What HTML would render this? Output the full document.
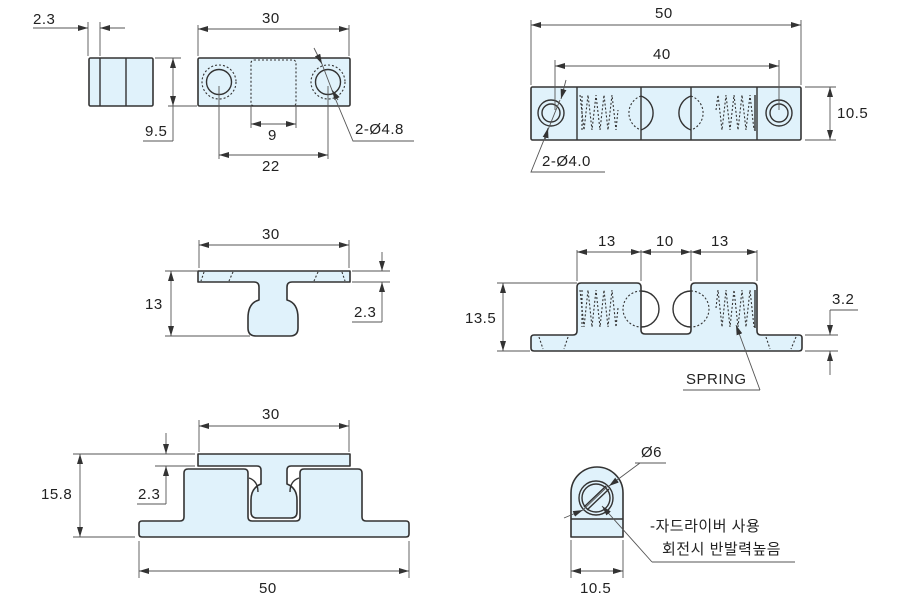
<!DOCTYPE html>
<html><head><meta charset="utf-8"><style>
html,body{margin:0;padding:0;background:#fff;}
svg{display:block}
text{font-family:"Liberation Sans","Noto Sans CJK KR",sans-serif;font-size:15px;fill:#222;letter-spacing:0.5px}
.p{fill:#e0f2fb;stroke:#333;stroke-width:1.6;stroke-linejoin:round}
.l{fill:none;stroke:#333;stroke-width:1.4}
.d{fill:none;stroke:#555;stroke-width:0.9}
.ds{fill:none;stroke:#333;stroke-width:1.1;stroke-dasharray:2 2}
</style></head><body>
<svg width="900" height="605" viewBox="0 0 900 605" xmlns="http://www.w3.org/2000/svg">
<defs>
<marker id="a" viewBox="0 0 10 6" refX="10" refY="3" markerWidth="10" markerHeight="6" orient="auto-start-reverse" markerUnits="userSpaceOnUse"><path d="M0,0 L10,3 L0,6 z" fill="#333"/></marker>
</defs>

<!-- ===== top-left small block ===== -->
<rect class="p" x="89" y="58" width="64" height="48" rx="1.5"/>
<line class="l" x1="100" y1="58" x2="100" y2="106"/>
<line class="l" x1="126" y1="58" x2="126" y2="106"/>
<line class="d" x1="88" y1="22" x2="88" y2="56"/>
<line class="d" x1="100" y1="22" x2="100" y2="56"/>
<line class="d" x1="33" y1="28" x2="88" y2="28" marker-end="url(#a)"/>
<line class="d" x1="125" y1="28" x2="100" y2="28" marker-end="url(#a)"/>
<text x="33" y="24">2.3</text>
<line class="d" x1="155" y1="58" x2="181" y2="58"/>
<line class="d" x1="168" y1="106" x2="197" y2="106"/>
<line class="d" x1="173" y1="58" x2="173" y2="106" marker-start="url(#a)" marker-end="url(#a)"/>
<line class="d" x1="173" y1="106" x2="173" y2="141"/>
<line class="d" x1="143" y1="141" x2="173" y2="141"/>
<text x="145" y="136">9.5</text>

<!-- ===== top block 2 ===== -->
<rect class="p" x="198" y="58" width="152" height="48" rx="1.5"/>
<rect class="ds" x="251" y="60" width="45" height="46" rx="3"/>
<circle class="ds" cx="219" cy="82" r="17"/>
<circle class="l" cx="219" cy="82" r="12.5"/>
<circle class="ds" cx="328" cy="82" r="17"/>
<circle class="l" cx="328" cy="82" r="12.5"/>
<line class="d" x1="198" y1="25" x2="198" y2="56"/>
<line class="d" x1="349" y1="25" x2="349" y2="56"/>
<line class="d" x1="198" y1="29" x2="349" y2="29" marker-start="url(#a)" marker-end="url(#a)"/>
<text x="262" y="23">30</text>
<line class="d" x1="251" y1="106" x2="251" y2="128"/>
<line class="d" x1="296" y1="106" x2="296" y2="128"/>
<line class="d" x1="251" y1="124" x2="296" y2="124" marker-start="url(#a)" marker-end="url(#a)"/>
<text x="268" y="140">9</text>
<line class="d" x1="219" y1="86" x2="219" y2="159"/>
<line class="d" x1="328" y1="86" x2="328" y2="159"/>
<line class="d" x1="219" y1="155" x2="328" y2="155" marker-start="url(#a)" marker-end="url(#a)"/>
<text x="262" y="171">22</text>
<line class="d" x1="314" y1="48" x2="322" y2="64" marker-end="url(#a)"/>
<line class="d" x1="322" y1="64" x2="335" y2="98"/>
<line class="d" x1="338" y1="100" x2="332" y2="90" marker-end="url(#a)"/>
<polyline class="d" points="335,98 353,141 414,141"/>
<text x="355" y="134">2-Ø4.8</text>

<!-- ===== top right block ===== -->
<rect class="p" x="531" y="87" width="270" height="53" rx="1.5"/>
<line class="l" x1="577" y1="87" x2="577" y2="140"/>
<line class="l" x1="641" y1="87" x2="641" y2="140"/>
<line class="l" x1="691" y1="87" x2="691" y2="140"/>
<line class="l" x1="757" y1="87" x2="757" y2="140"/>
<circle class="l" cx="551" cy="113" r="13"/>
<circle class="l" cx="551" cy="113" r="9"/>
<circle class="l" cx="779" cy="113" r="13"/>
<circle class="l" cx="779" cy="113" r="9"/>
<path class="ds" d="M641,96 A18,18 0 0 0 641,130"/>
<path class="l" d="M641,96 A18,18 0 0 1 641,130"/>
<path class="ds" d="M691,96 A18,18 0 0 1 691,130"/>
<path class="l" d="M691,96 A18,18 0 0 0 691,130"/>
<polyline class="ds" points="580,95 584,130 588,95 592,130 596,95 600,130 604,95 608,130 612,95 616,130 618,110"/>
<polyline class="ds" points="582,96 582,130"/>
<polyline class="ds" points="716,110 718,95 722,130 726,95 730,130 734,95 738,130 742,95 746,130 750,95 754,130"/>
<line class="l" x1="755" y1="95" x2="755" y2="131"/>
<line class="d" x1="531" y1="20" x2="531" y2="85"/>
<line class="d" x1="801" y1="20" x2="801" y2="85"/>
<line class="d" x1="531" y1="25" x2="801" y2="25" marker-start="url(#a)" marker-end="url(#a)"/>
<text x="655" y="18">50</text>
<line class="d" x1="555" y1="60" x2="555" y2="110"/>
<line class="d" x1="779" y1="60" x2="779" y2="110"/>
<line class="d" x1="555" y1="66" x2="779" y2="66" marker-start="url(#a)" marker-end="url(#a)"/>
<text x="653" y="59">40</text>
<line class="d" x1="805" y1="87" x2="836" y2="87"/>
<line class="d" x1="805" y1="140" x2="836" y2="140"/>
<line class="d" x1="830" y1="87" x2="830" y2="140" marker-start="url(#a)" marker-end="url(#a)"/>
<text x="837" y="118">10.5</text>
<line class="d" x1="566" y1="80" x2="561" y2="99" marker-end="url(#a)"/>
<polyline class="d" points="560,100 531,172 605,172"/>
<line class="d" x1="545" y1="140" x2="548" y2="128" marker-end="url(#a)"/>
<text x="542" y="166">2-Ø4.0</text>

<!-- ===== middle left T ===== -->
<path class="p" d="M198,271 H350 V282 H292 Q287,282 287,287 V300 Q298,303 298,318 V328 Q298,336 290,336 H256 Q248,336 248,328 V318 Q248,303 259,300 V287 Q259,282 254,282 H198 Z"/>
<line class="ds" x1="233" y1="272" x2="229" y2="281"/>
<line class="ds" x1="204" y1="272" x2="201" y2="281"/>
<line class="ds" x1="318" y1="272" x2="314" y2="281"/>
<line class="ds" x1="342" y1="272" x2="345" y2="281"/>
<line class="d" x1="199" y1="240" x2="199" y2="268"/>
<line class="d" x1="349" y1="240" x2="349" y2="268"/>
<line class="d" x1="199" y1="245" x2="349" y2="245" marker-start="url(#a)" marker-end="url(#a)"/>
<text x="262" y="239">30</text>
<line class="d" x1="165" y1="271" x2="198" y2="271"/>
<line class="d" x1="165" y1="336" x2="250" y2="336"/>
<line class="d" x1="171" y1="271" x2="171" y2="336" marker-start="url(#a)" marker-end="url(#a)"/>
<text x="145" y="309">13</text>
<line class="d" x1="352" y1="271" x2="390" y2="271"/>
<line class="d" x1="352" y1="282" x2="390" y2="282"/>
<line class="d" x1="382" y1="252" x2="382" y2="271" marker-end="url(#a)"/>
<line class="d" x1="382" y1="322" x2="382" y2="282" marker-end="url(#a)"/>
<line class="d" x1="352" y1="322" x2="382" y2="322"/>
<text x="354" y="317">2.3</text>

<!-- ===== middle right side view ===== -->
<path class="p" d="M534,335 H573 Q577,335 577,331 V287 Q577,283 581,283 H637 Q641,283 641,287 V330 Q641,334 645,334 H687 Q691,334 691,330 V287 Q691,283 695,283 H753 Q757,283 757,287 V331 Q757,335 761,335 H799 Q802,335 802,338 V348 Q802,351 799,351 H534 Q531,351 531,348 V338 Q531,335 534,335 Z"/>
<path class="ds" d="M641,291 A18,18 0 0 0 641,327"/>
<path class="l" d="M641,291 A18,18 0 0 1 641,327"/>
<path class="ds" d="M691,291 A18,18 0 0 1 691,327"/>
<path class="l" d="M691,291 A18,18 0 0 0 691,327"/>
<polyline class="ds" points="580,290 584,327 588,290 592,327 596,290 600,327 604,290 608,327 612,290 616,327 618,308"/>
<polyline class="ds" points="582,290 582,327"/>
<polyline class="ds" points="716,308 718,290 722,327 726,290 730,327 734,290 738,327 742,290 746,327 750,290 754,327"/>
<line class="l" x1="755" y1="290" x2="755" y2="328"/>
<line class="ds" x1="539" y1="337" x2="543" y2="349"/>
<line class="ds" x1="568" y1="337" x2="564" y2="349"/>
<line class="ds" x1="766" y1="337" x2="770" y2="349"/>
<line class="ds" x1="796" y1="337" x2="791" y2="349"/>
<line class="d" x1="577" y1="250" x2="577" y2="281"/>
<line class="d" x1="641" y1="250" x2="641" y2="281"/>
<line class="d" x1="691" y1="250" x2="691" y2="281"/>
<line class="d" x1="757" y1="250" x2="757" y2="281"/>
<line class="d" x1="577" y1="252" x2="641" y2="252" marker-start="url(#a)" marker-end="url(#a)"/>
<line class="d" x1="641" y1="252" x2="691" y2="252" marker-start="url(#a)" marker-end="url(#a)"/>
<line class="d" x1="691" y1="252" x2="757" y2="252" marker-start="url(#a)" marker-end="url(#a)"/>
<text x="598" y="246">13</text>
<text x="656" y="246">10</text>
<text x="711" y="246">13</text>
<line class="d" x1="497" y1="283" x2="577" y2="283"/>
<line class="d" x1="497" y1="351" x2="530" y2="351"/>
<line class="d" x1="503" y1="283" x2="503" y2="351" marker-start="url(#a)" marker-end="url(#a)"/>
<text x="465" y="323">13.5</text>
<line class="d" x1="805" y1="335" x2="838" y2="335"/>
<line class="d" x1="805" y1="351" x2="838" y2="351"/>
<line class="d" x1="830" y1="310" x2="830" y2="335" marker-end="url(#a)"/>
<line class="d" x1="830" y1="375" x2="830" y2="351" marker-end="url(#a)"/>
<line class="d" x1="830" y1="310" x2="858" y2="310"/>
<text x="832" y="304">3.2</text>
<line class="d" x1="760" y1="390" x2="736" y2="325" marker-end="url(#a)"/>
<line class="d" x1="683" y1="390" x2="760" y2="390"/>
<text x="686" y="384">SPRING</text>

<!-- ===== bottom-left front view ===== -->
<path class="p" d="M142,521 H180 Q184,521 184,517 V473 Q184,469 188,469 H244 Q248,469 248,473 V517 Q248,521 252,521 H296 Q300,521 300,517 V473 Q300,469 304,469 H358 Q362,469 362,473 V517 Q362,521 366,521 H406 Q409,521 409,524 V534 Q409,537 406,537 H142 Q139,537 139,534 V524 Q139,521 142,521 Z"/>
<path class="p" d="M198,454 H350 V466 H291 Q287,466 287,470 V484 Q297,488 297,500 V512 Q297,518 291,518 H257 Q251,518 251,512 V500 Q251,488 261,484 V470 Q261,466 257,466 H198 Z"/>
<path class="l" d="M249,478 Q258,481 258,492"/>
<path class="l" d="M299,478 Q290,481 290,492"/>
<line class="d" x1="199" y1="420" x2="199" y2="452"/>
<line class="d" x1="349" y1="420" x2="349" y2="452"/>
<line class="d" x1="199" y1="426" x2="349" y2="426" marker-start="url(#a)" marker-end="url(#a)"/>
<text x="262" y="419">30</text>
<line class="d" x1="73" y1="454" x2="195" y2="454"/>
<line class="d" x1="73" y1="537" x2="135" y2="537"/>
<line class="d" x1="80" y1="454" x2="80" y2="537" marker-start="url(#a)" marker-end="url(#a)"/>
<text x="41" y="499">15.8</text>
<line class="d" x1="155" y1="466" x2="195" y2="466"/>
<line class="d" x1="166" y1="433" x2="166" y2="454" marker-end="url(#a)"/>
<line class="d" x1="166" y1="504" x2="166" y2="466" marker-end="url(#a)"/>
<line class="d" x1="137" y1="504" x2="166" y2="504"/>
<text x="138" y="499">2.3</text>
<line class="d" x1="139" y1="541" x2="139" y2="578"/>
<line class="d" x1="409" y1="541" x2="409" y2="578"/>
<line class="d" x1="139" y1="571" x2="409" y2="571" marker-start="url(#a)" marker-end="url(#a)"/>
<text x="259" y="593">50</text>

<!-- ===== bottom-right end view ===== -->
<path class="p" d="M571,537 V493 A26,26 0 0 1 623,493 V537 Z"/>
<line class="l" x1="571" y1="519" x2="623" y2="519"/>
<circle class="l" cx="596" cy="498" r="17"/>
<circle class="l" cx="596" cy="498" r="14"/>
<line class="l" x1="584" y1="507" x2="606" y2="486"/>
<line class="l" x1="587" y1="510" x2="609" y2="489"/>
<line class="d" x1="564" y1="518" x2="583" y2="510" marker-end="url(#a)"/>
<line class="d" x1="583" y1="510" x2="608" y2="486"/>
<line class="d" x1="640" y1="463" x2="609" y2="486" marker-end="url(#a)"/>
<line class="d" x1="635" y1="463" x2="666" y2="463"/>
<text x="641" y="457">Ø6</text>
<line class="d" x1="652" y1="562" x2="602" y2="506" marker-end="url(#a)"/>
<line class="d" x1="652" y1="562" x2="795" y2="562"/>
<text x="650" y="531">-자드라이버 사용</text>
<text x="662" y="554">회전시 반발력높음</text>
<line class="d" x1="571" y1="540" x2="571" y2="578"/>
<line class="d" x1="623" y1="540" x2="623" y2="578"/>
<line class="d" x1="571" y1="571" x2="623" y2="571" marker-start="url(#a)" marker-end="url(#a)"/>
<text x="580" y="593">10.5</text>
</svg>
</body></html>
